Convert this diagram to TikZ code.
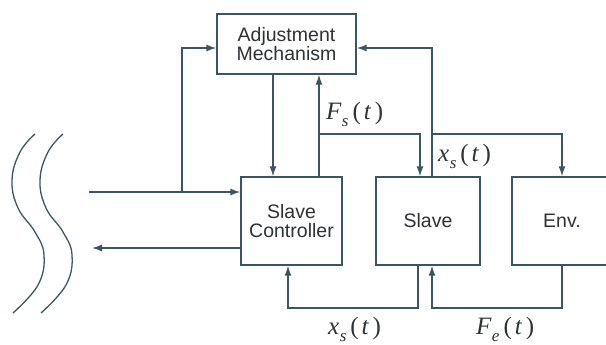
\documentclass[tikz,border=0pt]{standalone}
\usepackage{fontspec}
\setmainfont{Liberation Sans}
\newfontfamily\tnr{Liberation Serif}
\usetikzlibrary{arrows.meta}
\definecolor{ln}{RGB}{58,86,100}
\definecolor{tx}{RGB}{45,50,55}
\newcommand\mylab[2]{{\tnr\itshape #1}\hspace{0.5pt}\raisebox{-7pt}{\fontsize{17}{17}\selectfont\tnr\itshape #2}\hspace{4pt}{\tnr(}\hspace{3pt}{\tnr\itshape t}\hspace{4pt}{\tnr)}}
\begin{document}
\begin{tikzpicture}[x=1pt,y=-1pt,
  blk/.style={draw=ln,line width=1.4pt,fill=white,minimum height=88pt,inner sep=0pt,text=tx,align=center,font=\fontsize{19.5}{19}\selectfont},
  con/.style={draw=ln,line width=1.3pt},
  arr/.style={con,-{Latex[length=10pt,width=7pt]}},
  lab/.style={inner sep=0pt,anchor=base west,text=tx,font=\fontsize{25}{25}\selectfont},
  wave/.style={draw=ln,line width=1.3pt}]
\useasboundingbox (0,0) rectangle (606,345);
\node[blk,minimum width=139pt,minimum height=60pt] (adj) at (286.5,44) {Adjustment\\Mechanism};
\node[blk,minimum width=101pt] (sc) at (291.5,221) {Slave\\Controller};
\node[blk,minimum width=104pt] (sl) at (428,221) {Slave};
\node[blk,minimum width=100pt] (env) at (562,221) {Env.};
% input and output
\coordinate (inS) at (89,192);
\coordinate (br1) at (182,192);
\coordinate (outE) at (92,248);
\draw[arr] (inS) -- (sc.west |- inS);
\draw[arr] (br1) |- (adj.west |- 0,48);
\draw[arr] (sc.west |- outE) -- (outE);
% adj -> sc
\draw[arr] (adj.south -| 273,0) -- (sc.north -| 273,0);
% sc -> adj, and F_s to slave
\coordinate (fs) at (319,134);
\draw[arr] (sc.north -| fs) -- (adj.south -| fs);
\draw[arr] (fs) -| (sl.north -| 420,0);
% slave -> adj, and x_s to env
\coordinate (xs) at (432,134);
\draw[arr] (sl.north -| xs) |- (adj.east |- 0,48);
\draw[arr] (xs) -| (env.north);
% feedback from slave to sc
\draw[arr] (sl.south -| 418,0) |- (288,308) -- (sc.south -| 288,0);
% feedback from env to slave
\draw[arr] (env.south) |- (432,308) -- (sl.south -| 432,0);
% labels
\node[lab] (lfs) at (326,120) {\mylab{F}{s}};
\node[lab] (lxs) at (438,161) {\mylab{x}{s}};
\node[lab] (lxb) at (328,334) {\mylab{x}{s}};
\node[lab] (lfe) at (476,334) {\mylab{F}{e}};
% wavy lines
\draw[wave] plot[smooth,tension=0.7] coordinates {(35,134) (20,152) (12,180) (18,208) (35,232) (44,255) (38,285) (13,313)};
\draw[wave] plot[smooth,tension=0.7] coordinates {(63,134) (48,152) (40,180) (46,208) (63,232) (72,255) (66,285) (41,313)};
\end{tikzpicture}
\end{document}
